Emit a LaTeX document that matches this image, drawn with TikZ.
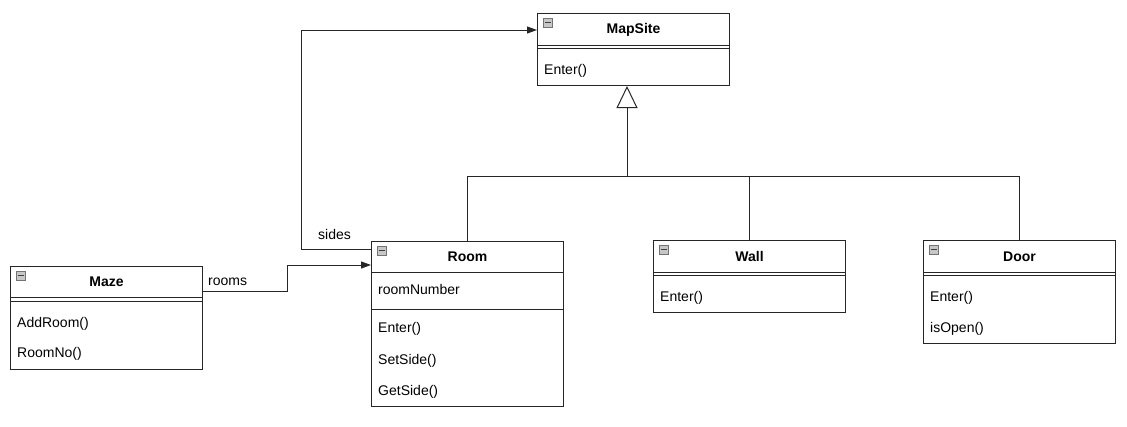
\documentclass[tikz,border=0pt]{standalone}
\usepackage{fontspec}
\setmainfont{Liberation Sans}
\usetikzlibrary{arrows.meta}

\tikzset{
  part/.style={draw=black!85, line width=1pt, fill=white, anchor=north west, minimum width=192pt, inner sep=0pt},
  title/.style={part, font=\fontsize{14}{17}\selectfont\bfseries},
  icon/.style={draw=black!55, fill=black!22, anchor=north west, minimum size=9pt, inner sep=0pt, line width=0.6pt},
  member/.style={anchor=west, inner sep=0pt},
  link/.style={draw=black!85, line width=1pt},
  assoc/.style={link, -{Triangle[length=10pt, width=7pt]}},
  inherit/.style={link, -{Triangle[open, length=22pt, width=21pt, fill=white]}},
}
\newcommand{\minus}{\color{black!75}\rule{6pt}{1.3pt}}

\begin{document}
\begin{tikzpicture}[x=1pt, y=-1pt, font=\fontsize{14}{17}\selectfont]
  \useasboundingbox (0,0) rectangle (1127,426);

  % MapSite
  \node[title, minimum height=32pt] (maphdr) at (537,13) {MapSite};
  \node[part, minimum height=3pt] (mapattr) at (537,45) {};
  \node[part, minimum height=37pt] (mapops) at (537,48) {};
  \node[icon] (mapicon) at ([shift={(6,5)}]maphdr.north west) {\minus};
  \node[member] (mapenter) at (544,71) {Enter()};

  % Maze
  \node[title, minimum height=31pt] (mazehdr) at (10,266) {Maze};
  \node[part, minimum height=4pt] (mazeattr) at (10,297) {};
  \node[part, minimum height=68pt] (mazeops) at (10,301) {};
  \node[icon] (mazeicon) at ([shift={(6,5)}]mazehdr.north west) {\minus};
  \node[member] (mazeadd) at (17,324) {AddRoom()};
  \node[member] (mazeno) at (17,354) {RoomNo()};

  % Room
  \node[title, minimum height=31pt] (roomhdr) at (371,241) {Room};
  \node[part, minimum height=37pt] (roomattr) at (371,272) {};
  \node[part, minimum height=97pt] (roomops) at (371,309) {};
  \node[icon] (roomicon) at ([shift={(6,5)}]roomhdr.north west) {\minus};
  \node[member] (roomnum) at (378,289) {roomNumber};
  \node[member] (roomenter) at (378,329) {Enter()};
  \node[member] (roomset) at (378,361) {SetSide()};
  \node[member] (roomget) at (378,392) {GetSide()};

  % Wall
  \node[title, minimum height=32pt] (wallhdr) at (653,240) {Wall};
  \node[part, minimum height=3pt] (wallattr) at (653,272) {};
  \node[part, minimum height=37pt] (wallops) at (653,275) {};
  \node[icon] (wallicon) at ([shift={(6,5)}]wallhdr.north west) {\minus};
  \node[member] (wallenter) at (660,298) {Enter()};

  % Door
  \node[title, minimum height=32pt] (doorhdr) at (923,240) {Door};
  \node[part, minimum height=3pt] (doorattr) at (923,272) {};
  \node[part, minimum height=68pt] (doorops) at (923,275) {};
  \node[icon] (dooricon) at ([shift={(6,5)}]doorhdr.north west) {\minus};
  \node[member] (doorenter) at (930,298) {Enter()};
  \node[member] (dooropen) at (930,329) {isOpen()};

  % generalisation
  \coordinate (split) at (627,176);
  \draw[inherit] (roomhdr.north) |- (split) -- (mapops.south -| split);
  \draw[link] (wallhdr.north) |- (split);
  \draw[link] (doorhdr.north) |- (split);

  % associations
  \draw[assoc] (mazehdr.east |- 0,291) -| (287,265) -- (roomhdr.west |- 0,265);
  \node[member] (roomslbl) at (208,282) {rooms};
  \draw[assoc] (roomhdr.west |- 0,249) -| (301,30) -- (maphdr.west |- 0,30);
  \node[member] (sideslbl) at (318,234) {sides};
\end{tikzpicture}
\end{document}
